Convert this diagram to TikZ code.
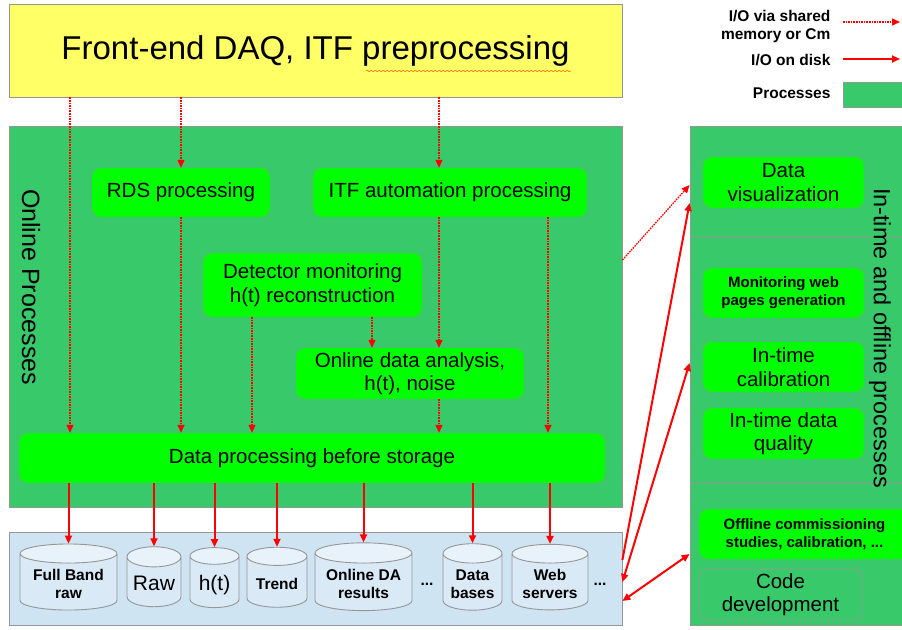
\documentclass[tikz,border=0pt]{standalone}
\usepackage{fontspec}
\setmainfont{Liberation Sans}
\usetikzlibrary{arrows.meta, shapes.geometric, decorations.pathmorphing}

\definecolor{bannery}{RGB}{255,255,102}
\definecolor{procgreen}{RGB}{56,201,107}
\definecolor{boxgreen}{RGB}{0,255,0}
\definecolor{storeblue}{RGB}{207,228,242}
\definecolor{drumbody}{RGB}{218,233,246}
\definecolor{drumtop}{RGB}{232,242,250}
\definecolor{edgegray}{RGB}{150,150,150}

\newcommand\drumlbl[1]{\raisebox{-4pt}[\height][\depth]{\begin{tabular}{@{}c@{}}#1\end{tabular}}}

\tikzset{
  area/.style={draw=edgegray, fill=procgreen, line width=0.8pt},
  proc/.style={draw=edgegray!70!procgreen, fill=boxgreen, rounded corners=8pt, align=center,
    inner sep=0pt, font=\fontsize{20.5}{23.5}\selectfont},
  procb/.style={proc, font=\bfseries\fontsize{15}{18}\selectfont},
  drum/.style={cylinder, shape border rotate=90, draw=edgegray, line width=0.9pt,
    cylinder uses custom fill, cylinder body fill=drumbody, cylinder end fill=drumtop,
    inner sep=0pt, minimum height=60pt, font=\bfseries\fontsize{15.5}{18.5}\selectfont},
  legend/.style={anchor=east, align=right, font=\bfseries\fontsize{15.5}{18}\selectfont},
  shm/.style={->, red, line width=1.3pt, dash pattern=on 1.6pt off 1pt},
  disk/.style={->, red, line width=2pt},
}

\begin{document}
\begin{tikzpicture}[x=1pt, y=-1pt, >={Triangle[length=8pt,width=7pt]}]
\useasboundingbox (0,0) rectangle (902,629);

% big areas
\node[area, fill=bannery, minimum width=613, minimum height=93] (banner) at (315.5,50.5)
  {\fontsize{33}{36}\selectfont Front-end DAQ, ITF preprocessing};
\draw[decorate, decoration={snake, amplitude=0.8pt, segment length=4pt}, orange!70!red, line width=0.5pt]
  (366,71) -- (571,71);
\node[area, minimum width=613, minimum height=381] (online) at (315.5,316.5) {};
\node[area, fill=storeblue, minimum width=613, minimum height=93] (store) at (315.5,578.5) {};
\node[area, minimum width=220, minimum height=110] (panelA) at (800,181) {};
\node[area, minimum width=220, minimum height=247] (panelB) at (800,359.5) {};
\node[area, minimum width=220, minimum height=142] (panelC) at (800,554) {};

\node[rotate=-90, font=\fontsize{25}{27}\selectfont] (onlinelbl) at (31,287) {Online Processes};
\node[rotate=-90, font=\fontsize{23.5}{26}\selectfont] (itolbl) at (880,338) {In-time and offline processes};

% online processes
\node[proc, minimum width=178, minimum height=49] (rds) at (181,192.5) {RDS processing};
\node[proc, minimum width=274, minimum height=49] (itf) at (450,192.5) {ITF automation processing};
\node[proc, minimum width=219, minimum height=64] (det) at (312.5,285) {Detector monitoring\\h(t) reconstruction};
\node[proc, minimum width=228, minimum height=51] (oda) at (410,373.5) {Online data analysis,\\h(t), noise};
\node[proc, minimum width=586, minimum height=50] (dps) at (312,458) {Data processing before storage};

% in-time and offline processes
\node[proc, minimum width=161, minimum height=51] (vis) at (783.5,182.5) {Data\\visualization};
\node[procb, minimum width=161, minimum height=50] (webgen) at (783.5,293) {Monitoring web\\pages generation};
\node[proc, minimum width=161, minimum height=50] (cal) at (783.5,367) {In-time\\calibration};
\node[proc, minimum width=161, minimum height=51] (dq) at (783.5,433.5) {In-time data\\quality};
\node[procb, minimum width=211, minimum height=50] (offline) at (804.5,534) {Offline commissioning\\studies, calibration, ...};
\node[proc, fill=procgreen, draw=edgegray, line width=0.8pt, minimum width=163, minimum height=51] (code) at (780.5,594.5) {Code\\development};

% storage
\node[drum, minimum width=97, aspect=0.27] (fb) at (68.5,582) {\drumlbl{Full Band\\raw}};
\node[drum, minimum width=54, aspect=0.48, font=\fontsize{21}{24}\selectfont] (raw) at (154,582) {\drumlbl{Raw}};
\node[drum, minimum width=49, aspect=0.53, font=\fontsize{21}{24}\selectfont] (ht) at (214.5,582) {\drumlbl{h(t)}};
\node[drum, minimum width=60, aspect=0.43] (trend) at (277,582) {\drumlbl{Trend}};
\node[drum, minimum width=97, aspect=0.27] (odares) at (363.5,582) {\drumlbl{Online DA\\results}};
\node[drum, minimum width=59, aspect=0.44] (dbs) at (472.5,582) {\drumlbl{Data\\bases}};
\node[drum, minimum width=76, aspect=0.34] (websrv) at (550,582) {\drumlbl{Web\\servers}};
\node[font=\bfseries\fontsize{15.5}{18}\selectfont] (moreA) at (427,584) {...};
\node[font=\bfseries\fontsize{15.5}{18}\selectfont] (moreB) at (600,584) {...};

% legend
\node[legend] (lgshm) at (834,26) {I/O via shared\\memory or Cm};
\node[legend] (lgdisk) at (834,60) {I/O on disk};
\node[legend] (lgproc) at (834,93.5) {Processes};
\node[area, minimum width=70, minimum height=25, anchor=west] (lgbox) at (843,94.5) {};
\coordinate (shmA) at (843,22);
\coordinate (shmB) at (900,22);
\coordinate (diskA) at (843,59);
\coordinate (diskB) at (900,59);
\draw[shm] (shmA) -- (shmB);
\draw[disk] (diskA) -- (diskB);

% columns of the shared memory links
\coordinate (colA) at (70,0);
\coordinate (colC) at (439,0);
\coordinate (colD) at (252,0);
\coordinate (colE) at (372,0);
\coordinate (colF) at (548,0);

\foreach \a/\b/\c in {banner/dps/colA, banner/rds/rds, banner/itf/colC, rds/dps/rds,
  det/dps/colD, det/oda/colE, itf/oda/colC, oda/dps/colC, itf/dps/colF}
  \draw[shm] (\a.south -| \c) -- (\b.north -| \c);

\foreach \d in {fb,raw,ht,trend,odares,dbs,websrv}
  \draw[disk] (dps.south -| \d.north) -- (\d.north);

% links to the right panel
\draw[shm] (online.east |- 0,260) -- (panelA.west |- 0,185);
\draw[disk] (store.east |- 0,560) -- (panelA.west |- 0,203);
\draw[disk, <->] (store.east |- 0,582) -- (panelB.west |- 0,363);
\draw[disk, <->] (store.east |- 0,601) -- (panelC.west |- 0,554);
\end{tikzpicture}
\end{document}
